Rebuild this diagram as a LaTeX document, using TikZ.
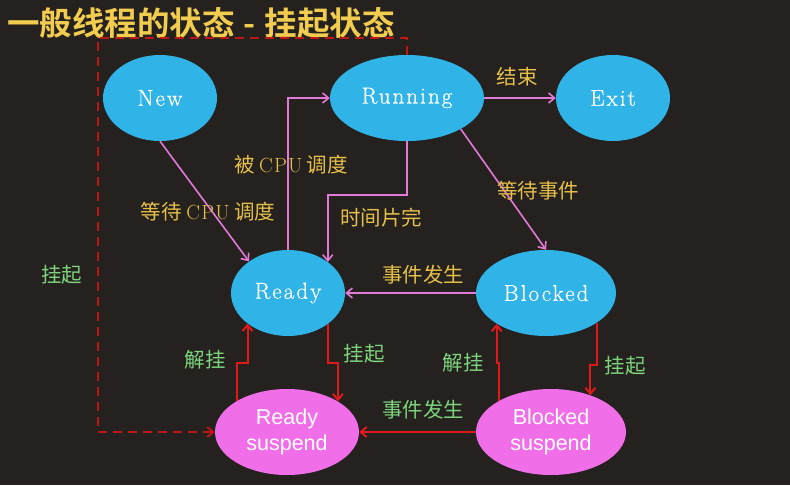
\documentclass[tikz,border=0pt]{standalone}
\usepackage{fontspec}
\newfontfamily\cjk{Noto Sans CJK SC}
\newfontfamily\cjkbold{Noto Sans CJK SC Bold}
\newfontfamily\arialf{Liberation Sans}
\newfontfamily\nodefont{Latin Modern Roman}[LetterSpace=9,FakeBold=0.6]
\newfontfamily\cpufont{Latin Modern Roman}[LetterSpace=6]
\usetikzlibrary{shapes.geometric,arrows.meta}
\definecolor{bg}{HTML}{24211F}
\definecolor{nblue}{HTML}{30B4E8}
\definecolor{npink}{HTML}{F06EE8}
\definecolor{lpink}{HTML}{E37AD8}
\definecolor{lred}{HTML}{E01A1A}
\definecolor{ltxt}{HTML}{E6C04A}
\definecolor{ttxt}{HTML}{F2CC4E}
\definecolor{gtxt}{HTML}{7CD47C}
\tikzset{
  bstate/.style={ellipse,fill=nblue,text=white,inner sep=0pt,font=\nodefont\fontsize{23}{26}\selectfont},
  pstate/.style={ellipse,fill=npink,text=white,inner sep=0pt,align=center,font=\arialf\fontsize{21.5}{26}\selectfont},
  parrow/.style={draw=lpink,line width=1.6pt,-{Straight Barb[length=6pt,width=10pt,line width=1.6pt]}},
  rarrow/.style={draw=lred,line width=2pt,-{Straight Barb[length=6pt,width=10pt,line width=2pt]}},
  darrow/.style={draw=lred!85!black,line width=2pt,dash pattern=on 9pt off 6pt,-{Straight Barb[length=6pt,width=10pt,line width=2pt]}},
  ylab/.style={text=ltxt,inner sep=0pt,font=\cjk\fontsize{20.5}{24}\selectfont},
  glab/.style={text=gtxt,inner sep=0pt,font=\cjk\fontsize{20.5}{24}\selectfont},
}
\begin{document}
\begin{tikzpicture}[x=1pt,y=-1pt]
\fill[bg] (0,0) rectangle (790,485);
\useasboundingbox (0,0) rectangle (790,485);

\node[anchor=west,text=ttxt,inner sep=0pt,font=\cjkbold\fontsize{32.5}{36}\selectfont] (title) at (7,23) {一般线程的状态\hspace{9pt}-\hspace{9pt}挂起状态};

\node[bstate,minimum width=114pt,minimum height=86pt] (new) at (160,98) {New};
\node[bstate,minimum width=154pt,minimum height=86pt] (run) at (407,98) {Running};
\node[bstate,minimum width=114pt,minimum height=86pt] (exit) at (613,98) {Exit};
\node[bstate,minimum width=114pt,minimum height=86pt] (ready) at (288,293) {Ready};
\node[bstate,minimum width=140pt,minimum height=86pt] (blocked) at (546,293) {Blocked};
\node[pstate,minimum width=144pt,minimum height=86pt] (rs) at (287,432) {Ready\\suspend};
\node[pstate,minimum width=150pt,minimum height=86pt] (bs) at (551,432) {Blocked\\suspend};

\coordinate (k1) at (0,195);
\coordinate (k2) at (0,363);
\coordinate (k3) at (0,365);
\coordinate (d1) at (98,38);

% pink arrows
\draw[parrow] (new.south) -- (ready.141);
\draw[parrow] (ready.north) |- (run.west);
\draw[parrow] (run.south) -- (run.south |- k1) -| (ready.38);
\draw[parrow] (run.-30) -- (blocked.north);
\draw[parrow] (run.east) -- (exit.west);
\draw[parrow] (blocked.west) -- (ready.east);

% red arrows
\draw[rarrow] (ready.-38) -- (ready.-38 |- k2) -| (rs.31);
\draw[rarrow] (rs.148) -- (rs.148 |- k2) -| (ready.217);
\draw[rarrow] (blocked.-30) -- (blocked.-30 |- k3) -| (bs.43);
\draw[rarrow] (bs.149) -- (bs.149 |- k2) -| (blocked.212);
\draw[rarrow] (bs.west) -- (rs.east);
\draw[darrow] (run.north) |- (d1) |- (rs.west);

% labels
\node[ylab] (l1) at (291,165) {被 {\cpufont CPU} 调度};
\node[ylab] (l2) at (208,212) {等待 {\cpufont CPU} 调度};
\node[ylab] (l3) at (381,218) {时间片完};
\node[ylab] (l4) at (538,191) {等待事件};
\node[ylab] (l5) at (517,77) {结束};
\node[ylab] (l6) at (423,275) {事件发生};
\node[glab] (l7) at (62,275) {挂起};
\node[glab] (l8) at (205,360) {解挂};
\node[glab] (l9) at (364,354) {挂起};
\node[glab] (l10) at (463,363) {解挂};
\node[glab] (l11) at (625,366) {挂起};
\node[glab] (l12) at (423,410) {事件发生};
\end{tikzpicture}
\end{document}
